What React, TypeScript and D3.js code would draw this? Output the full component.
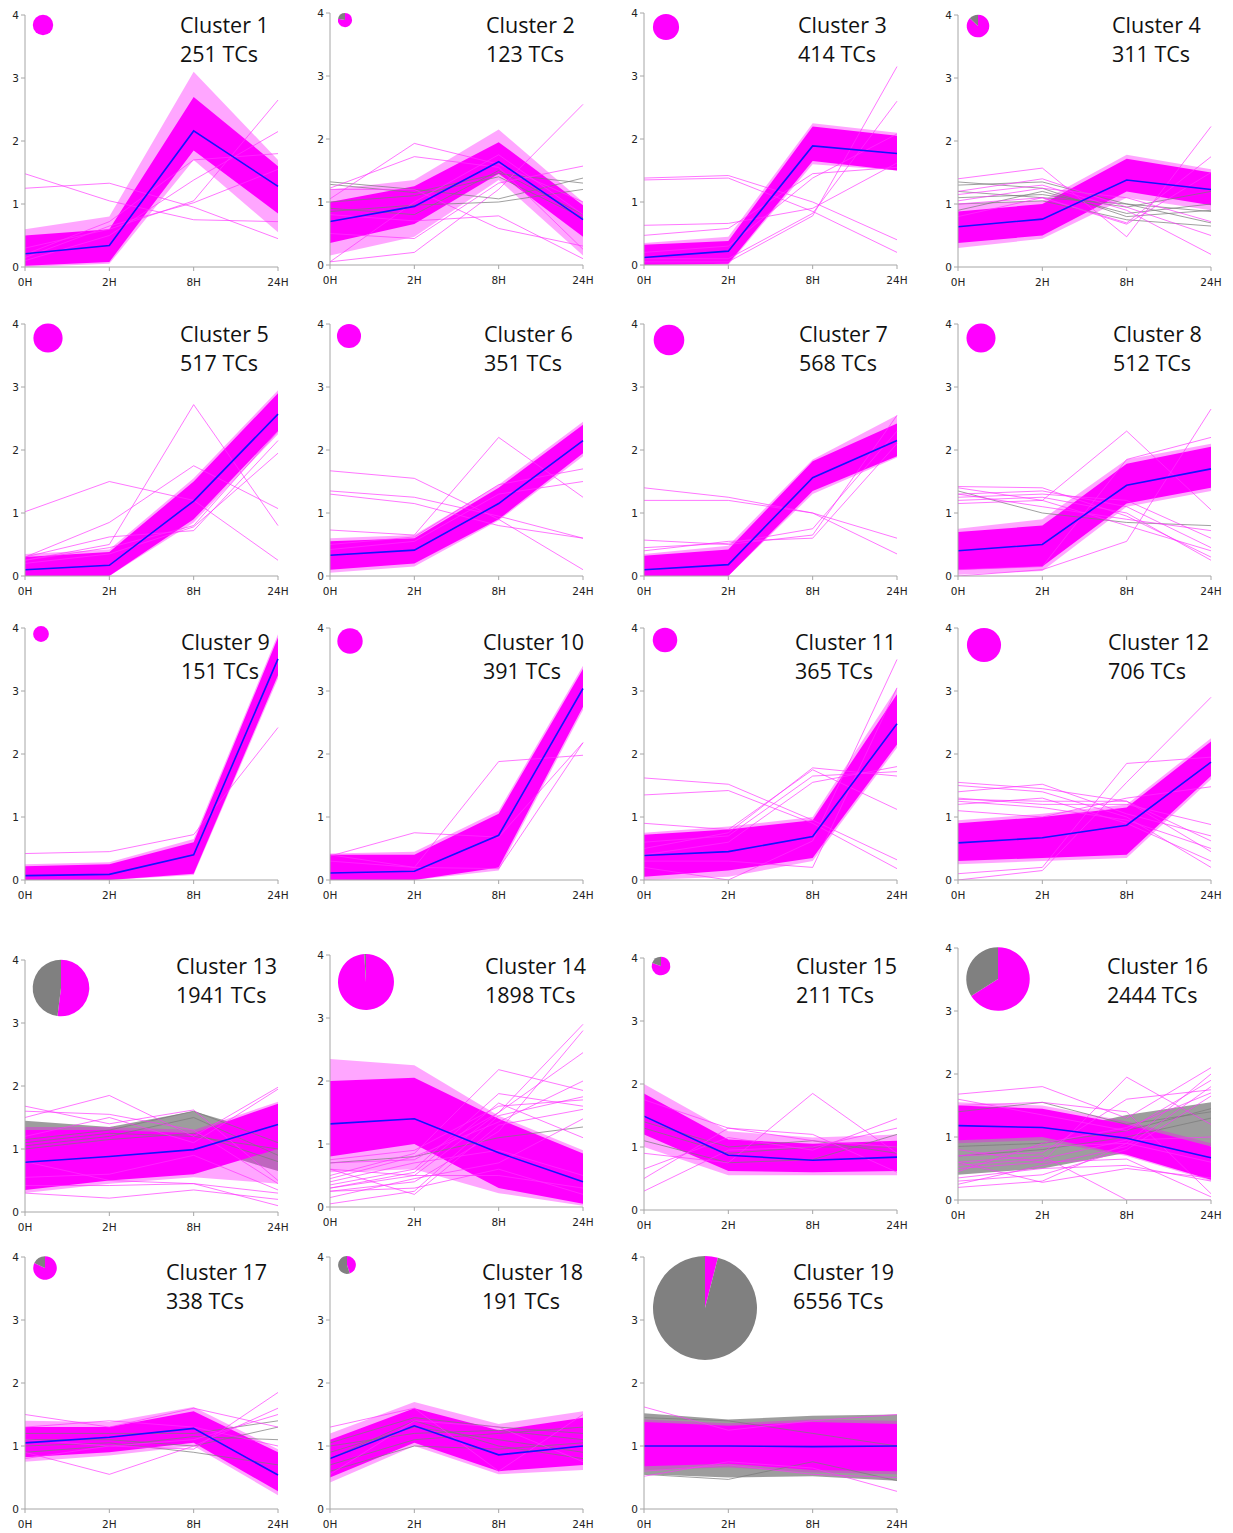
import React from "react";
import * as d3 from "d3";

// ---------------- DATA ----------------
const timePoints = ["0H", "2H", "8H", "24H"];
const yTicks = [0, 1, 2, 3, 4];
const clusterIds = [1, 2, 3, 4, 5, 6, 7, 8, 9, 10, 11, 12, 13, 14, 15, 16, 17, 18, 19];
const tcCounts = [251, 123, 414, 311, 517, 351, 568, 512, 151, 391, 365, 706, 1941, 1898, 211, 2444, 338, 191, 6556];
const magentaShare = [1, 0.78, 1, 0.87, 1, 1, 1, 1, 1, 1, 1, 1, 0.52, 0.99, 0.8, 0.66, 0.82, 0.45, 0.04];

const meanProfile = [
  [0.21, 0.34, 2.16, 1.28], [0.69, 0.93, 1.64, 0.72], [0.12, 0.22, 1.89, 1.77], [0.64, 0.76, 1.38, 1.23],
  [0.1, 0.17, 1.19, 2.57], [0.33, 0.41, 1.15, 2.15], [0.1, 0.18, 1.56, 2.15], [0.4, 0.5, 1.44, 1.7],
  [0.07, 0.09, 0.4, 3.51], [0.11, 0.14, 0.71, 3.04], [0.39, 0.45, 0.69, 2.48], [0.59, 0.67, 0.87, 1.87],
  [0.79, 0.88, 0.99, 1.39], [1.32, 1.4, 0.86, 0.4], [1.49, 0.87, 0.79, 0.84], [1.18, 1.15, 0.98, 0.67],
  [1.05, 1.14, 1.28, 0.54], [0.8, 1.32, 0.86, 1.0], [1.0, 1.0, 0.99, 1.0],
];

const coreLow = [
  [0.02, 0.08, 1.85, 0.85], [0.35, 0.65, 1.45, 0.45], [0, 0.02, 1.65, 1.5], [0.38, 0.5, 1.2, 0.98],
  [0, 0, 0.9, 2.3], [0.1, 0.2, 0.9, 1.95], [0, 0, 1.35, 1.9], [0.1, 0.15, 1.15, 1.4],
  [0, 0, 0.1, 3.25], [0, 0, 0.2, 2.75], [0.05, 0.15, 0.35, 2.15], [0.3, 0.35, 0.4, 1.65],
  [0.35, 0.5, 0.6, 1.0], [0.8, 1.0, 0.3, 0.05], [1.2, 0.62, 0.6, 0.62], [0.95, 1.0, 0.72, 0.32],
  [0.82, 0.9, 1.05, 0.28], [0.5, 1.05, 0.6, 0.7], [0.68, 0.72, 0.62, 0.6],
];
const coreHigh = [
  [0.5, 0.6, 2.7, 1.6], [1.0, 1.25, 1.95, 0.95], [0.32, 0.38, 2.2, 2.05], [0.88, 1.0, 1.72, 1.5],
  [0.3, 0.38, 1.5, 2.9], [0.55, 0.6, 1.4, 2.4], [0.32, 0.42, 1.82, 2.42], [0.7, 0.8, 1.78, 2.05],
  [0.22, 0.25, 0.6, 3.85], [0.4, 0.4, 1.05, 3.35], [0.72, 0.8, 0.95, 2.95], [0.9, 1.0, 1.15, 2.2],
  [1.3, 1.3, 1.25, 1.72], [2.0, 2.05, 1.4, 0.85], [1.85, 1.12, 1.05, 1.1], [1.5, 1.45, 1.2, 0.85],
  [1.3, 1.3, 1.55, 0.9], [1.1, 1.6, 1.25, 1.45], [1.38, 1.32, 1.38, 1.35],
];
const haloLow = [
  [0, 0.05, 1.7, 0.55], [0.15, 0.45, 1.35, 0.15], [0, 0, 1.6, 1.5], [0.3, 0.45, 1.1, 0.9],
  [0, 0, 0.85, 2.25], [0.05, 0.15, 0.88, 1.9], [0, 0, 1.3, 1.88], [0.02, 0.08, 1.1, 1.35],
  [0, 0, 0.08, 3.2], [0, 0, 0.15, 2.7], [0, 0.05, 0.3, 2.1], [0.25, 0.3, 0.35, 1.6],
  [0.3, 0.45, 0.55, 0.45], [0.55, 0.6, 0.22, 0.02], [1.0, 0.55, 0.55, 0.55], [0.9, 0.95, 0.7, 0.3],
  [0.75, 0.85, 1.0, 0.22], [0.42, 1.0, 0.55, 0.62], [0.62, 0.66, 0.58, 0.55],
];
const haloHigh = [
  [0.6, 0.8, 3.1, 1.7], [1.2, 1.35, 2.15, 1.0], [0.35, 0.45, 2.25, 2.1], [1.0, 1.05, 1.78, 1.55],
  [0.35, 0.42, 1.55, 2.95], [0.6, 0.65, 1.45, 2.45], [0.35, 0.48, 1.85, 2.55], [0.75, 0.9, 1.85, 2.1],
  [0.25, 0.28, 0.65, 3.9], [0.42, 0.45, 1.1, 3.4], [0.75, 0.85, 1.0, 3.05], [0.95, 1.05, 1.2, 2.25],
  [1.35, 1.35, 1.3, 1.75], [2.35, 2.25, 1.45, 0.9], [2.0, 1.25, 1.15, 1.2], [1.55, 1.5, 1.25, 0.9],
  [1.4, 1.38, 1.62, 0.95], [1.2, 1.7, 1.35, 1.55], [1.42, 1.36, 1.42, 1.4],
];
// grey (non-coloured) band, null when absent
const greyLow = [
  null, null, null, null, null, null, null, null, null, null, null, null,
  [0.9, 1.0, 1.05, 0.65], null, null, [0.4, 0.5, 0.75, 0.85], null, null, [0.55, 0.5, 0.52, 0.45],
];
const greyHigh = [
  null, null, null, null, null, null, null, null, null, null, null, null,
  [1.45, 1.35, 1.6, 1.2], null, null, [1.05, 1.05, 1.35, 1.55], null, null, [1.52, 1.42, 1.48, 1.5],
];

const outlierLines = [
  [[1.48, 1.05, 0.75, 0.72], [1.25, 1.33, 0.95, 0.45], [0.3, 0.6, 1.05, 2.65], [0.1, 0.5, 1.38, 2.15], [0.2, 0.72, 1.7, 1.8], [0.15, 0.65, 1.02, 1.55]],
  [[0.05, 0.2, 1.2, 2.55], [1.05, 1.93, 1.6, 1.0], [1.22, 1.72, 1.55, 0.25], [1.2, 1.2, 0.58, 0.3], [0.5, 0.42, 1.3, 1.57], [0.05, 1.0, 1.75, 0.8], [0.8, 0.7, 0.78, 0.1]],
  [[1.38, 1.42, 1.0, 0.4], [1.35, 1.38, 0.85, 0.2], [0.63, 0.66, 0.9, 1.62], [0.47, 0.58, 1.45, 1.55], [0.05, 0.05, 0.78, 3.15], [0.1, 0.1, 0.82, 2.6], [0.2, 0.3, 1.38, 2.08]],
  [[1.4, 1.57, 0.48, 2.23], [1.15, 1.3, 0.9, 0.2], [1.0, 1.1, 0.7, 1.75], [1.2, 1.4, 0.95, 0.5], [1.05, 1.25, 1.1, 0.72], [0.8, 1.1, 0.68, 1.5]],
  [[1.02, 1.5, 1.2, 0.25], [0.3, 0.85, 1.75, 1.07], [0.25, 0.5, 2.72, 0.8], [0.3, 0.62, 0.72, 2.15], [0.2, 0.35, 0.78, 1.95], [0.25, 0.45, 0.8, 2.3]],
  [[1.67, 1.55, 0.9, 0.1], [1.35, 1.25, 0.95, 0.6], [1.3, 1.15, 0.8, 0.6], [0.73, 0.65, 2.2, 1.25], [0.5, 0.62, 1.45, 1.7], [0.42, 0.55, 1.3, 1.5]],
  [[1.4, 1.25, 1.0, 0.35], [1.2, 1.2, 1.0, 0.6], [0.57, 0.5, 0.65, 2.55], [0.45, 0.52, 0.75, 2.3], [0.4, 0.55, 0.6, 2.1]],
  [[1.42, 1.4, 0.95, 0.3], [1.3, 1.35, 1.1, 0.45], [1.25, 1.3, 1.2, 0.6], [1.15, 1.2, 0.8, 0.4], [1.4, 1.2, 2.3, 1.05], [0.0, 0.1, 0.55, 2.65], [0.1, 0.15, 1.85, 2.2], [1.2, 1.25, 1.0, 0.25], [1.3, 1.1, 0.9, 0.72]],
  [[0.42, 0.45, 0.72, 2.42]],
  [[0.4, 0.2, 1.88, 1.98], [0.38, 0.75, 0.68, 2.18], [0.3, 0.2, 0.18, 2.18]],
  [[1.62, 1.52, 0.95, 0.32], [1.35, 1.42, 0.9, 0.18], [0.9, 0.8, 1.75, 1.12], [0.5, 0.75, 1.78, 1.65], [0.4, 0.6, 1.55, 1.8], [0.2, 0.0, 0.62, 3.5], [0.3, 0.3, 0.2, 3.05], [0.6, 0.7, 1.65, 1.72]],
  [[1.55, 1.45, 1.25, 0.45], [1.4, 1.52, 1.05, 0.7], [1.3, 1.2, 1.2, 0.88], [1.25, 1.15, 0.95, 0.5], [1.2, 1.3, 0.9, 0.3], [0.1, 0.2, 1.85, 1.95], [0.0, 0.15, 1.55, 2.9], [1.1, 1.0, 1.3, 1.48], [1.28, 1.25, 1.25, 0.62], [1.5, 1.4, 1.0, 0.2]],
  [[1.68, 1.4, 1.62, 0.5], [0.42, 0.42, 0.45, 0.1], [0.3, 0.22, 0.35, 0.2], [1.5, 1.85, 1.2, 1.98], [1.2, 1.5, 1.1, 1.95], [0.8, 0.5, 0.45, 0.3], [1.6, 1.55, 1.3, 0.45], [0.55, 0.6, 0.9, 0.35]],
  [[0.3, 0.5, 1.5, 2.9], [0.25, 0.4, 1.2, 2.8], [0.5, 0.85, 2.18, 1.85], [0.7, 0.75, 1.5, 2.45], [0.35, 0.6, 1.8, 1.6], [0.05, 0.25, 1.45, 1.75], [0.6, 0.2, 1.3, 1.55], [0.45, 0.8, 1.35, 2.0], [0.3, 0.55, 1.65, 1.1], [0.25, 0.3, 0.6, 0.2], [0.4, 0.7, 0.9, 0.5], [0.6, 0.5, 0.5, 0.3], [0.15, 0.45, 0.7, 1.4], [0.75, 0.9, 1.6, 1.7]],
  [[0.3, 0.95, 1.0, 1.3], [0.9, 0.75, 1.85, 0.9], [0.5, 1.3, 1.1, 1.0], [0.65, 1.15, 0.95, 1.45], [1.75, 1.3, 1.2, 0.6]],
  [[1.68, 1.8, 1.3, 2.1], [0.2, 0.3, 0.9, 2.0], [0.5, 0.6, 1.95, 1.2], [1.5, 1.55, 1.4, 0.1], [0.35, 0.5, 0.55, 0.3], [1.6, 1.35, 1.1, 1.9], [0.3, 0.4, 0.8, 1.65], [0.25, 0.55, 0.85, 1.8], [0.6, 0.28, 0.5, 0.35], [0.8, 0.6, 0.65, 0.05], [0.45, 0.9, 1.15, 1.7], [0.7, 0.75, 1.6, 1.75], [0.6, 0.7, 0, 0], [0.55, 0.65, 0.95, 1.0], [0.7, 0.85, 0.9, 0.6]],
  [[0.9, 0.55, 1.0, 1.6], [1.5, 1.3, 1.6, 1.3], [1.1, 1.0, 0.95, 1.85], [0.8, 1.0, 1.1, 1.5], [1.3, 1.4, 1.3, 1.0]],
  [[1.3, 1.6, 0.6, 1.5], [0.55, 1.4, 1.3, 0.75]],
  [[1.62, 1.25, 1.4, 1.5], [0.52, 0.75, 0.65, 0.28], [0.6, 0.7, 0.55, 0.5]],
];

const greyLines = [
  [],
  [[1.32, 1.2, 1.05, 1.38], [1.28, 1.15, 1.45, 1.3], [0.9, 0.8, 1.5, 0.8], [1.0, 1.1, 1.4, 0.75], [0.85, 0.95, 1.0, 1.2]],
  [],
  [[1.35, 1.25, 0.8, 0.9], [1.3, 1.35, 1.0, 0.7], [1.1, 1.15, 0.95, 1.2], [0.9, 1.2, 0.85, 1.0], [1.0, 1.05, 0.75, 0.65], [1.2, 1.1, 1.0, 0.88]],
  [], [], [],
  [[1.35, 1.0, 0.85, 0.8]],
  [], [], [], [],
  [[1.1, 1.25, 1.2, 1.0], [1.05, 1.2, 1.5, 0.9], [1.15, 1.3, 1.6, 1.1], [1.0, 1.15, 1.25, 0.8]],
  [[0.7, 0.8, 1.1, 1.27]],
  [[1.3, 0.9, 1.0, 1.0], [1.1, 0.75, 0.8, 1.2], [1.4, 1.0, 1.1, 0.9]],
  [[0.7, 0.8, 1.0, 1.3], [0.85, 0.9, 1.1, 1.45], [1.4, 1.55, 1.2, 1.4]],
  [[1.1, 1.1, 1.0, 1.3], [0.9, 1.0, 1.15, 1.1], [1.2, 1.2, 1.2, 1.4], [1.0, 1.05, 0.9, 0.7]],
  [[0.9, 1.3, 1.1, 0.9], [1.0, 1.2, 1.25, 1.1], [0.7, 1.1, 1.2, 1.3], [0.8, 1.4, 1.0, 0.8], [1.05, 1.45, 1.3, 1.2], [0.6, 1.0, 0.95, 1.05]],
  [[0.55, 0.47, 0.75, 0.45], [1.45, 1.4, 1.2, 1.0]],
];

// ---------------- LAYOUT ----------------
const W = 1233;
const H = 1533;
const colX = [25, 330, 644, 958];
const panelW = 253;
const panelH = 252;
const panelTop = [15, 13, 13, 15, 324, 324, 324, 324, 628, 628, 628, 628, 960, 955, 958, 948, 1257, 1257, 1257];
const titleX = [180, 486, 798, 1112, 180, 484, 799, 1113, 181, 483, 795, 1108, 176, 485, 796, 1107, 166, 482, 793];
const rowTitleY = [33, 342, 650, 974, 1280];
const pieCX = [43, 345, 666, 978, 48, 349, 669, 981, 41, 350, 665, 984, 61, 366, 661, 998, 45, 347, 705];
const pieCY = [25, 20, 27, 26, 338, 336, 340, 338, 634, 641, 640, 645, 988, 982, 966, 979, 1268, 1265, 1308];

const MAGENTA = "#ff00ff";
const GREY = "#808080";
const BLUE = "#1414ff";
const AXIS = "#a6a6a6";

const rScale = d3.scaleSqrt().domain([0, 6556]).range([0, 52]);

function Panel({ i }: { i: number }) {
  const x0 = colX[i % 4];
  const top = panelTop[i];
  const bottom = top + panelH;
  const x = d3.scalePoint<string>().domain(timePoints).range([x0, x0 + panelW]).padding(0);
  const y = d3.scaleLinear().domain([0, 4]).range([bottom, top]);
  const line = d3.line<number>().x((_, k) => x(timePoints[k]) as number).y((d) => y(d));
  const band = (lo: number[], hi: number[]) =>
    d3.area<number>()
      .x((_, k) => x(timePoints[k]) as number)
      .y0((_, k) => y(lo[k]))
      .y1((_, k) => y(hi[k]))(lo) as string;
  const clipId = `clip-${i}`;
  const row = Math.floor(i / 4);
  const ty = rowTitleY[row];

  const pie = d3.pie<number>().sort(null).value((d) => d)([magentaShare[i], 1 - magentaShare[i]]);
  const r = rScale(tcCounts[i]);
  const arc = d3.arc<d3.PieArcDatum<number>>().innerRadius(0).outerRadius(r);

  return (
    <g>
      <defs>
        <clipPath id={clipId}>
          <rect x={x0} y={top - 10} width={panelW + 2} height={panelH + 10} />
        </clipPath>
      </defs>
      <g clipPath={`url(#${clipId})`}>
        {greyLow[i] && (
          <path d={band(greyLow[i] as number[], greyHigh[i] as number[])} fill="#858585" opacity={0.8} />
        )}
        <path d={band(haloLow[i], haloHigh[i])} fill={MAGENTA} opacity={0.35} />
        <path d={band(coreLow[i], coreHigh[i])} fill={MAGENTA} />
        {greyLines[i].map((l, k) => (
          <path key={"g" + k} d={line(l) as string} fill="none" stroke="#7a7a7a" strokeWidth={0.9} opacity={0.8} />
        ))}
        {outlierLines[i].map((l, k) => (
          <path key={"o" + k} d={line(l) as string} fill="none" stroke="#ff33ff" strokeWidth={0.9} opacity={0.75} />
        ))}
        <path d={line(meanProfile[i]) as string} fill="none" stroke={BLUE} strokeWidth={1.6} />
      </g>
      {/* axes */}
      <line x1={x0} x2={x0} y1={top} y2={bottom} stroke={AXIS} strokeWidth={1} />
      <line x1={x0} x2={x0 + panelW} y1={bottom} y2={bottom} stroke={AXIS} strokeWidth={1} />
      {yTicks.map((t) => (
        <g key={"yt" + t}>
          <line x1={x0 - 4} x2={x0} y1={y(t)} y2={y(t)} stroke={AXIS} />
          <text x={x0 - 6} y={y(t) + 3.5} textAnchor="end" fontSize={10.5} fontFamily="DejaVu Sans" fill="#222">
            {t}
          </text>
        </g>
      ))}
      {timePoints.map((t) => (
        <g key={"xt" + t}>
          <line x1={x(t)} x2={x(t)} y1={bottom} y2={bottom + 4} stroke={AXIS} />
          <text x={x(t)} y={bottom + 19} textAnchor="middle" fontSize={10.5} fontFamily="DejaVu Sans" fill="#222">
            {t}
          </text>
        </g>
      ))}
      {/* pie */}
      <g transform={`translate(${pieCX[i]},${pieCY[i]})`}>
        {pie.map((p, k) =>
          p.value > 0 ? <path key={k} d={arc(p) as string} fill={k === 0 ? MAGENTA : GREY} /> : null
        )}
      </g>
      {/* title */}
      <text x={titleX[i]} y={ty} fontSize={21.5} fontFamily="Open Sans" fill="#111">
        {`Cluster ${clusterIds[i]}`}
      </text>
      <text x={titleX[i]} y={ty + 29} fontSize={21.5} fontFamily="Open Sans" fill="#111">
        {`${tcCounts[i]} TCs`}
      </text>
    </g>
  );
}

export default function App() {
  return (
    <svg
      width={W}
      height={H}
      viewBox={`0 0 ${W} ${H}`}
      style={{ position: "absolute", left: 0, top: 0, background: "#fff" }}
    >
      <rect width={W} height={H} fill="#fff" />
      {clusterIds.map((_, i) => (
        <Panel key={i} i={i} />
      ))}
    </svg>
  );
}
